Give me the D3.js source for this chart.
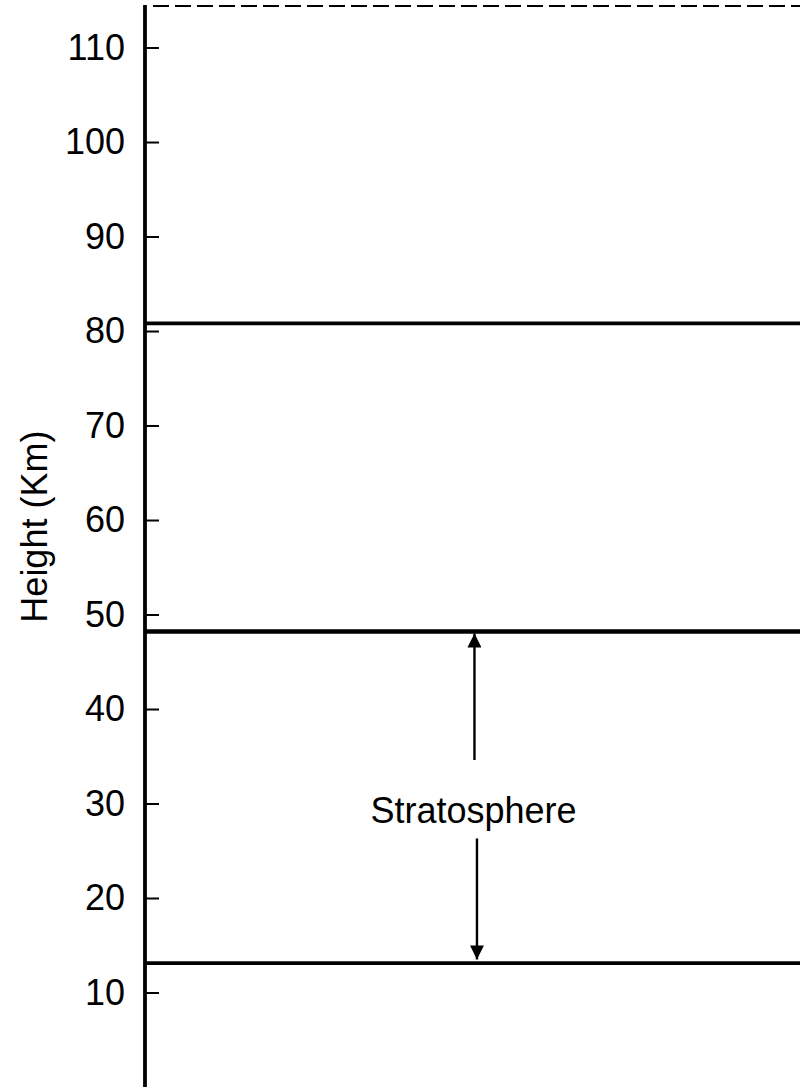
<!DOCTYPE html>
<html>
<head>
<meta charset="utf-8">
<script src="https://cdn.jsdelivr.net/npm/d3@7"></script>
<style>
  html, body { margin: 0; padding: 0; background: #fff; }
  svg { display: block; }
  text { font-family: "Liberation Sans", Arial, sans-serif; fill: #000; }
</style>
</head>
<body>
<svg id="chart" width="800" height="1087"></svg>
<script>
// ---- data ----
const tickValues = [10, 20, 30, 40, 50, 60, 70, 80, 90, 100, 110];
const axisRange = [0, 114.5];               // km covered by the vertical axis
const layerBoundaries = [80.8, 48.2, 13.1]; // km, solid horizontal lines
const topBoundary = [114.5];                // km, dashed line at top
const layerLabels = ["Stratosphere"];
const labelHeights = [29.3];                // km, label centre
const arrowUp = [[34.6, 48.2]];             // from km -> to km
const arrowDown = [[26.3, 13.5]];           // from km -> to km
const axisTitle = "Height (Km)";
const axisTitleAt = 59.3;                   // km, centre of the axis title

// ---- layout ----
const W = 800, H = 1087;
const axisX = 145;
const fontSize = "36px";
const svg = d3.select("#chart");

const y = d3.scaleLinear().domain(axisRange).range([H, 5]);
const x = d3.scaleLinear().domain([0, 1]).range([axisX, W]);

svg.append("defs").append("marker")
  .attr("id", "head")
  .attr("viewBox", "0 0 10 10")
  .attr("refX", 10).attr("refY", 5)
  .attr("markerWidth", 16).attr("markerHeight", 14)
  .attr("markerUnits", "userSpaceOnUse")
  .attr("orient", "auto")
  .append("path").attr("d", "M0,0 L10,5 L0,10 Z").attr("fill", "#000");

// horizontal boundaries
svg.selectAll("line.bound").data(layerBoundaries).enter().append("line")
  .attr("class", "bound")
  .attr("x1", x(0)).attr("x2", x(1))
  .attr("y1", d => y(d)).attr("y2", d => y(d))
  .attr("stroke", "#000")
  .attr("stroke-width", (d, i) => i === 1 ? 4.5 : 3.8);

svg.selectAll("line.top").data(topBoundary).enter().append("line")
  .attr("class", "top")
  .attr("x1", x(0) + 8).attr("x2", x(1))
  .attr("y1", d => y(d) + 1).attr("y2", d => y(d) + 1)
  .attr("stroke", "#000").attr("stroke-width", 2.2)
  .attr("stroke-dasharray", "16,6");

// axis
const axis = d3.axisLeft(y)
  .tickValues(tickValues)
  .tickSize(-14)
  .tickPadding(20)
  .tickFormat(d3.format("d"));

const g = svg.append("g").attr("transform", `translate(${axisX},0)`).call(axis);
g.select(".domain").attr("stroke", "#000").attr("stroke-width", 3.8)
  .attr("d", `M0,${y(axisRange[1])}V${y(axisRange[0])}`);
g.selectAll(".tick line").attr("stroke", "#000").attr("stroke-width", 2);
g.selectAll(".tick text")
  .style("font-family", "'Liberation Sans', Arial, sans-serif")
  .style("font-size", fontSize)
  .attr("fill", "#000");

// axis title
svg.append("text")
  .attr("transform", `translate(47,${y(axisTitleAt)}) rotate(-90)`)
  .attr("text-anchor", "middle")
  .style("font-size", fontSize)
  .text(axisTitle);

// arrows
const arrowX = 0.503;
svg.selectAll("line.up").data(arrowUp).enter().append("line")
  .attr("x1", x(arrowX)).attr("x2", x(arrowX))
  .attr("y1", d => y(d[0])).attr("y2", d => y(d[1]) + 2)
  .attr("stroke", "#000").attr("stroke-width", 2.4)
  .attr("marker-end", "url(#head)");
svg.selectAll("line.down").data(arrowDown).enter().append("line")
  .attr("x1", x(arrowX) + 2.5).attr("x2", x(arrowX) + 2.5)
  .attr("y1", d => y(d[0])).attr("y2", d => y(d[1]))
  .attr("stroke", "#000").attr("stroke-width", 2.4)
  .attr("marker-end", "url(#head)");

// layer label
svg.selectAll("text.layer").data(layerLabels).enter().append("text")
  .attr("class", "layer")
  .attr("x", x(arrowX) - 1)
  .attr("y", (d, i) => y(labelHeights[i]))
  .attr("dy", "0.35em")
  .attr("text-anchor", "middle")
  .style("font-size", fontSize)
  .text(d => d);
</script>
</body>
</html>
